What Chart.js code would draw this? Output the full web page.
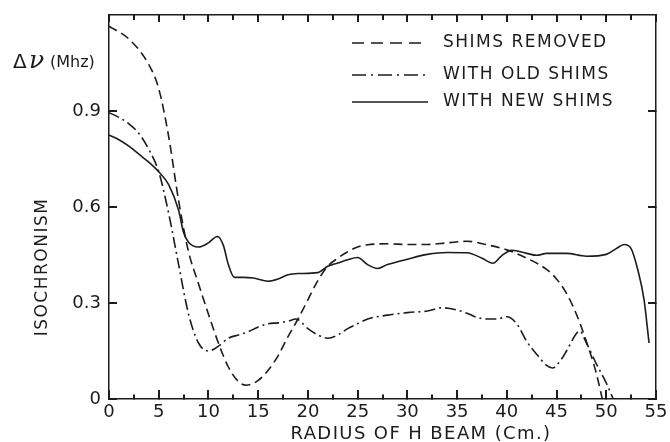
<!DOCTYPE html>
<html>
<head>
<meta charset="utf-8">
<script src="https://cdn.jsdelivr.net/npm/chart.js@4.4.0/dist/chart.umd.min.js"></script>
<style>
  html, body { margin: 0; padding: 0; background: #fff; }
  #wrap { width: 670px; height: 442px; }
</style>
</head>
<body>
<div id="wrap"><canvas id="chart" width="670" height="442"></canvas></div>
<script>
// Isochronism vs radius
const removedX = [0, 2, 4, 5, 6, 7, 8, 9, 10, 11, 12, 13, 13.8, 15, 16, 17, 18, 19, 20, 21, 22, 23, 24, 25, 26, 28, 30, 32, 34, 36, 38, 40, 42, 44, 45, 46, 47, 48, 49, 49.6];
const removedY = [1.165, 1.125, 1.045, 0.97, 0.82, 0.62, 0.46, 0.36, 0.265, 0.175, 0.10, 0.055, 0.043, 0.058, 0.09, 0.135, 0.195, 0.25, 0.31, 0.37, 0.415, 0.44, 0.46, 0.475, 0.482, 0.485, 0.483, 0.483, 0.488, 0.493, 0.482, 0.466, 0.44, 0.405, 0.375, 0.33, 0.265, 0.18, 0.08, 0.0];

const oldX = [0, 1, 2, 3, 4, 5, 6, 7, 8, 9, 10, 11, 12, 13, 14, 15, 16, 17, 18, 18.8, 20, 21, 22, 23, 24, 25, 26, 28, 30, 32, 33.5, 35, 36, 37, 38, 39, 40, 41, 42, 43, 44, 44.6, 45.5, 46, 47, 47.3, 48, 49, 50, 50.7];
const oldY = [0.895, 0.88, 0.86, 0.83, 0.78, 0.71, 0.58, 0.42, 0.265, 0.175, 0.15, 0.165, 0.19, 0.2, 0.21, 0.225, 0.235, 0.238, 0.243, 0.25, 0.22, 0.2, 0.19, 0.2, 0.22, 0.235, 0.25, 0.262, 0.27, 0.275, 0.285, 0.278, 0.268, 0.255, 0.25, 0.25, 0.257, 0.235, 0.18, 0.14, 0.105, 0.097, 0.125, 0.15, 0.205, 0.213, 0.175, 0.11, 0.05, 0.0];

const newX = [0, 1, 2, 3, 4, 5, 6, 7, 7.5, 8, 9, 10, 10.9, 11.5, 12, 12.6, 13.5, 14.5, 16, 17, 18, 19, 21, 22, 23, 24, 25, 26, 27, 28, 30, 32, 34, 36, 37.5, 38.6, 39.5, 40.5, 42, 43, 44, 46, 48, 50, 51, 51.8, 52.5, 53.2, 53.8, 54.3];
const newY = [0.825, 0.81, 0.79, 0.765, 0.74, 0.71, 0.67, 0.59, 0.52, 0.49, 0.475, 0.488, 0.508, 0.48, 0.42, 0.38, 0.38, 0.378, 0.368, 0.375, 0.388, 0.392, 0.395, 0.415, 0.425, 0.435, 0.442, 0.42, 0.408, 0.42, 0.437, 0.452, 0.458, 0.457, 0.44, 0.424, 0.448, 0.465, 0.455, 0.449, 0.455, 0.455, 0.446, 0.452, 0.47, 0.483, 0.47, 0.40, 0.31, 0.175];

const seriesNames = ['SHIMS REMOVED', 'WITH OLD SHIMS', 'WITH NEW SHIMS'];
const xLabels = [0, 5, 10, 15, 20, 25, 30, 35, 40, 45, 50, 55];
const xTickMarks = [0, 2.5, 5, 7.5, 10, 12.5, 15, 17.5, 20, 22.5, 25, 27.5, 30, 32.5, 35, 37.5, 40, 42.5, 45, 47.5, 50, 52.5, 55];
const yTicks = [0, 0.3, 0.6, 0.9];

const ink = '#1c1c1c';
Chart.defaults.font.family = '"DejaVu Sans", sans-serif';
Chart.defaults.color = ink;

function pts(xs, ys) {
    return xs.map((x, i) => ({x: x, y: ys[i]}));
}

function seg(ctx, x1, y1, x2, y2) {
    ctx.beginPath();
    ctx.moveTo(x1, y1);
    ctx.lineTo(x2, y2);
    ctx.stroke();
}

function isMajor(c) {
    return c.tick && xLabels.includes(c.tick.value);
}

// tick marks pointing into the plot, frame lines from the axis borders
function inwardGrid(len, extra) {
    return Object.assign({
        display: true, drawOnChartArea: false, drawTicks: true,
        tickLength: -len, color: ink, lineWidth: 2
    }, extra || {});
}
const frameBorder = { display: true, color: ink, width: 1.5 };

// fixed axis sizes, no extra edge padding from the labels
function fixSize(w, h) {
    return s => {
        if (w !== null) s.width = w;
        if (h !== null) s.height = h;
        s.paddingTop = 0; s.paddingBottom = 0;
        s.paddingLeft = 0; s.paddingRight = 0;
    };
}

// legend and titles drawn on top of the chart
const paperStyle = {
    id: 'paperStyle',
    afterDraw(chart) {
        const ctx = chart.ctx;
        ctx.save();
        ctx.strokeStyle = ink;
        ctx.fillStyle = ink;

        const rowY = [43, 75, 102];
        ctx.font = '17px "DejaVu Sans"';
        ctx.letterSpacing = '1.5px';
        ctx.textBaseline = 'middle';
        chart.data.datasets.forEach((ds, i) => {
            ctx.setLineDash(ds.legendDash);
            ctx.lineWidth = 1.4;
            seg(ctx, 352, rowY[i], 428, rowY[i]);
            ctx.fillText(ds.label, 443, rowY[i]);
        });
        ctx.setLineDash([]);

        ctx.textAlign = 'center';
        ctx.font = '18px "DejaVu Sans"';
        ctx.letterSpacing = '1.4px';
        ctx.fillText('RADIUS OF H BEAM (Cm.)', 421, 434);

        ctx.save();
        ctx.translate(43, 267);
        ctx.rotate(-Math.PI / 2);
        ctx.font = '17px "DejaVu Sans"';
        ctx.letterSpacing = '1.5px';
        ctx.fillText('ISOCHRONISM', 0, 0);
        ctx.restore();

        ctx.letterSpacing = '0px';
        ctx.textAlign = 'left';
        ctx.textBaseline = 'alphabetic';
        ctx.font = '20px "DejaVu Sans"';
        ctx.fillText('Δ', 13, 68);
        ctx.font = 'italic 25px "DejaVu Serif"';
        ctx.fillText('ν', 29, 68);
        ctx.font = '16px "DejaVu Sans"';
        ctx.fillText('(Mhz)', 50, 67);
        ctx.restore();
    }
};

new Chart(document.getElementById('chart'), {
    type: 'line',
    data: {
        datasets: [
            {label: seriesNames[0], data: pts(removedX, removedY), borderDash: [9, 5], legendDash: [12, 7]},
            {label: seriesNames[1], data: pts(oldX, oldY), borderDash: [11, 4, 2, 4], legendDash: [14, 5, 2, 5]},
            {label: seriesNames[2], data: pts(newX, newY), borderDash: [], legendDash: []}
        ].map(ds => Object.assign(ds, {
            borderColor: ink,
            borderWidth: 1.6,
            pointRadius: 0,
            fill: false,
            tension: 0.4,
            cubicInterpolationMode: 'monotone'
        }))
    },
    options: {
        responsive: false,
        devicePixelRatio: 1,
        animation: false,
        layout: { padding: { top: 15, right: 14, left: 0, bottom: 0 } },
        plugins: {
            legend: { display: false },
            tooltip: { enabled: false }
        },
        scales: {
            x: {
                type: 'linear',
                position: 'bottom',
                min: 0,
                max: 55,
                // minor ticks: dash cuts the mark short, starting from the axis
                grid: inwardGrid(9, { tickBorderDash: c => isMajor(c) ? [] : [5, 60] }),
                border: frameBorder,
                afterBuildTicks: s => { s.ticks = xTickMarks.map(v => ({value: v})); },
                afterFit: fixSize(null, 43),
                ticks: {
                    padding: 12,
                    autoSkip: false,
                    maxRotation: 0,
                    font: { size: 18 },
                    color: ink,
                    callback: v => xLabels.includes(v) ? String(v) : ''
                }
            },
            xTop: {
                type: 'linear',
                position: 'top',
                min: 0,
                max: 55,
                // top marks start inside the plot: skip 2px, then draw 5px up to the frame
                grid: inwardGrid(7, {
                    tickBorderDash: c => isMajor(c) ? [] : [5, 2],
                    tickBorderDashOffset: c => isMajor(c) ? 0 : 5
                }),
                border: frameBorder,
                afterBuildTicks: s => { s.ticks = xTickMarks.map(v => ({value: v})); },
                afterFit: fixSize(null, 0),
                ticks: { display: false }
            },
            y: {
                min: 0,
                max: 1.2,
                position: 'left',
                grid: inwardGrid(8),
                border: frameBorder,
                afterBuildTicks: s => { s.ticks = yTicks.map(v => ({value: v})); },
                afterFit: fixSize(109, null),
                ticks: {
                    padding: 16,
                    font: { size: 18 },
                    color: ink,
                    callback: v => v === 0 ? '0' : v.toFixed(1)
                }
            },
            yRight: {
                min: 0,
                max: 1.2,
                position: 'right',
                grid: inwardGrid(8),
                border: frameBorder,
                afterBuildTicks: s => { s.ticks = yTicks.map(v => ({value: v})); },
                afterFit: fixSize(0, null),
                ticks: { display: false }
            }
        }
    },
    plugins: [paperStyle]
});
</script>
</body>
</html>
